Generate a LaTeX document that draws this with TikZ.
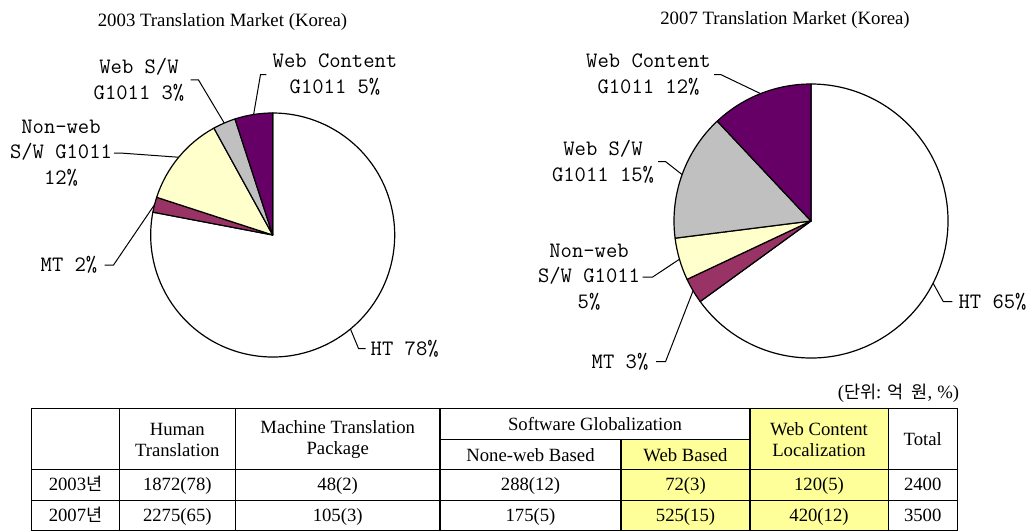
\documentclass[tikz,border=0pt]{standalone}
\usepackage{fontspec}
\setmainfont{Liberation Serif}
\newfontfamily\krfont{Noto Sans CJK KR}
\newcommand\hg[1]{{\krfont\fontsize{17.5}{18}\selectfont #1}}
\definecolor{htcol}{HTML}{FFFFFF}
\definecolor{mtcol}{HTML}{993366}
\definecolor{nwcol}{HTML}{FFFFCC}
\definecolor{swcol}{HTML}{C0C0C0}
\definecolor{wccol}{HTML}{660066}
\definecolor{hlcol}{HTML}{FFFF99}
\begin{document}
\begin{tikzpicture}[x=1pt,y=-1pt,
  title/.style={font=\fontsize{18.8}{20}\selectfont, inner sep=0pt, anchor=base},
  lbl/.style={font=\fontsize{22}{25.6}\selectfont\ttfamily, align=center, inner sep=0pt},
  leader/.style={line width=1pt},
  slice/.style={draw=black, line width=1.2pt, line join=round},
  cell/.style={font=\fontsize{18.7}{21}\selectfont, inner sep=0pt, anchor=base},
  mcell/.style={font=\fontsize{18.7}{21}\selectfont, inner sep=0pt, align=center},
  grid/.style={line width=1.3pt}]

\useasboundingbox (0,0) rectangle (1035,532);

% ---------- 2003 pie ----------
\node[title] (t03) at (222.5,26.5) {2003 Translation Market (Korea)};
\begin{scope}[shift={(272.7,235)}, y=1pt]
  \filldraw[slice, fill=htcol] (0,0) -- (169.2:122pt) arc[start angle=169.2, end angle=450, radius=122pt] -- cycle;
  \filldraw[slice, fill=mtcol] (0,0) -- (162:122pt) arc[start angle=162, end angle=169.2, radius=122pt] -- cycle;
  \filldraw[slice, fill=nwcol] (0,0) -- (118.8:122pt) arc[start angle=118.8, end angle=162, radius=122pt] -- cycle;
  \filldraw[slice, fill=swcol] (0,0) -- (108:122pt) arc[start angle=108, end angle=118.8, radius=122pt] -- cycle;
  \filldraw[slice, fill=wccol] (0,0) -- (90:122pt) arc[start angle=90, end angle=108, radius=122pt] -- cycle;
  \coordinate (aWC) at (99:122pt);
  \coordinate (aSW) at (113.4:122pt);
  \coordinate (aNW) at (140.4:122pt);
  \coordinate (aMT) at (165.6:122pt);
  \coordinate (aHT) at (309.6:122pt);
\end{scope}

\node[lbl] (aLWC) at (335,74.7) {Web Content\\G1011 5\%};
\node[lbl] (aLSW) at (139,80) {Web S/W\\G1011 3\%};
\node[lbl] (aLNW) at (61,153) {Non-web\\S/W G1011\\12\%};
\node[lbl] (aLMT) at (69,265) {MT 2\%};
\node[lbl] (aLHT) at (404.7,348.5) {HT 78\%};

\draw[leader] (aWC) -- ([xshift=-12pt]aLWC.west) -- ([xshift=-6pt]aLWC.west);
\draw[leader] ([xshift=6pt]aLSW.east) -- ([xshift=14pt]aLSW.east) -- (aSW);
\draw[leader] ([xshift=2pt]aLNW.east) -- ([xshift=8pt]aLNW.east) -- (aNW);
\draw[leader] ([xshift=7pt]aLMT.east) -- ([xshift=16pt]aLMT.east) -- (aMT);
\draw[leader] (aHT) -- ([xshift=-12pt]aLHT.west) -- ([xshift=-5pt]aLHT.west);

% ---------- 2007 pie ----------
\node[title] (t07) at (785,24.5) {2007 Translation Market (Korea)};
\begin{scope}[shift={(811,221)}, y=1pt]
  \filldraw[slice, fill=htcol] (0,0) -- (216:137pt) arc[start angle=216, end angle=450, radius=137pt] -- cycle;
  \filldraw[slice, fill=mtcol] (0,0) -- (205.2:137pt) arc[start angle=205.2, end angle=216, radius=137pt] -- cycle;
  \filldraw[slice, fill=nwcol] (0,0) -- (187.2:137pt) arc[start angle=187.2, end angle=205.2, radius=137pt] -- cycle;
  \filldraw[slice, fill=swcol] (0,0) -- (133.2:137pt) arc[start angle=133.2, end angle=187.2, radius=137pt] -- cycle;
  \filldraw[slice, fill=wccol] (0,0) -- (90:137pt) arc[start angle=90, end angle=133.2, radius=137pt] -- cycle;
  \coordinate (bWC) at (111.6:137pt);
  \coordinate (bSW) at (160.2:137pt);
  \coordinate (bNW) at (196.2:137pt);
  \coordinate (bMT) at (210.6:137pt);
  \coordinate (bHT) at (333:137pt);
\end{scope}

\node[lbl] (bLWC) at (648.5,74.7) {Web Content\\G1011 12\%};
\node[lbl] (bLSW) at (603,161.7) {Web S/W\\G1011 15\%};
\node[lbl] (bLNW) at (589,277) {Non-web\\S/W G1011\\5\%};
\node[lbl] (bLMT) at (620,361.7) {MT 3\%};
\node[lbl] (bLHT) at (992.5,301.7) {HT 65\%};

\draw[leader] ([xshift=3pt]bLWC.east) -- ([xshift=10pt]bLWC.east) -- (bWC);
\draw[leader] ([xshift=4pt]bLSW.east) -- ([xshift=11.5pt]bLSW.east) -- (bSW);
\draw[leader] ([xshift=2.5pt]bLNW.east) -- ([xshift=12.5pt]bLNW.east) -- (bNW);
\draw[leader] ([xshift=7.5pt]bLMT.east) -- ([xshift=17pt]bLMT.east) -- (bMT);
\draw[leader] (bHT) -- ([xshift=-15pt]bLHT.west) -- ([xshift=-6pt]bLHT.west);

% ---------- table ----------
\node[cell, anchor=base east] (unit) at (959.3,398)
  {(\hg{단위}:\hspace{6pt}\hg{억}\hspace{8pt}\hg{원},\hspace{5pt}\%)};

\fill[hlcol] (621,439.3) rectangle (750,530.7);
\fill[hlcol] (750,408.3) rectangle (888.3,530.7);

\draw[grid] (31.7,408.3) rectangle (957.3,530.7);
\draw[grid] (440,439.3) -- (750,439.3);
\draw[grid] (31.7,469.3) -- (957.3,469.3);
\draw[grid] (31.7,500.7) -- (957.3,500.7);
\foreach \cx in {119.3,235.3,440,750,888.3}
  \draw[grid] (\cx,408.3) -- (\cx,530.7);
\draw[grid] (621,439.3) -- (621,530.7);

\node[mcell] (hHT) at (177.3,440) {Human\\Translation};
\node[mcell] (hMT) at (337.7,440) {Machine Translation\\Package};
\node[cell] (hSG) at (595,430) {Software Globalization};
\node[cell] (hNW) at (530.5,461.5) {None-web Based};
\node[cell] (hWB) at (685.5,461.5) {Web Based};
\node[mcell] (hWC) at (819,440) {Web Content\\Localization};
\node[cell] (hTot) at (922.7,445.5) {Total};

\node[cell] (y03) at (75.5,490.7) {2003\hg{년}};
\node[cell] (r1a) at (177.3,490.7) {1872(78)};
\node[cell] (r1b) at (337.7,490.7) {48(2)};
\node[cell] (r1c) at (530.5,490.7) {288(12)};
\node[cell] (r1d) at (685.5,490.7) {72(3)};
\node[cell] (r1e) at (819,490.7) {120(5)};
\node[cell] (r1f) at (922.7,490.7) {2400};

\node[cell] (y07) at (75.5,521.4) {2007\hg{년}};
\node[cell] (r2a) at (177.3,521.4) {2275(65)};
\node[cell] (r2b) at (337.7,521.4) {105(3)};
\node[cell] (r2c) at (530.5,521.4) {175(5)};
\node[cell] (r2d) at (685.5,521.4) {525(15)};
\node[cell] (r2e) at (819,521.4) {420(12)};
\node[cell] (r2f) at (922.7,521.4) {3500};
\end{tikzpicture}
\end{document}
